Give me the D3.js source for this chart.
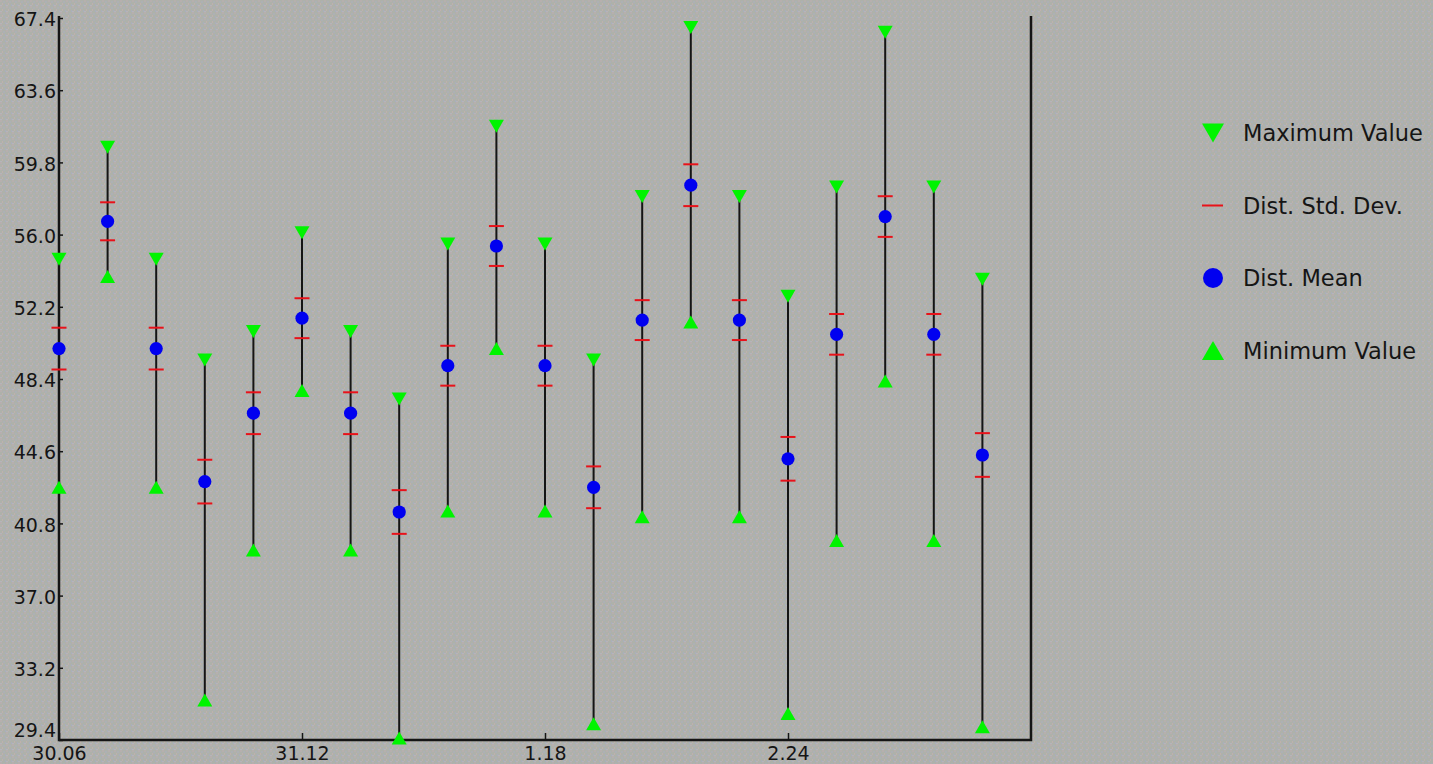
<!DOCTYPE html>
<html>
<head>
<meta charset="utf-8">
<script src="https://cdn.jsdelivr.net/npm/d3@7"></script>
<style>
  html, body { margin: 0; padding: 0; background: #afb1ac; overflow: hidden; }
  svg { display: block; }
  text { font-family: "DejaVu Sans", sans-serif; fill: #151515; }
</style>
</head>
<body>
<svg id="chart" width="1433" height="764"></svg>
<script>
// Per-sample statistics
const means     = [50.0, 56.7, 50.0, 43.0, 46.6, 51.6, 46.6, 41.4, 49.1, 55.4,
                   49.1, 42.7, 51.5, 58.6, 51.5, 44.2, 50.75, 56.95, 50.75, 44.4];
const stdDevs   = [1.1, 1.0, 1.1, 1.15, 1.1, 1.05, 1.1, 1.15, 1.05, 1.05,
                   1.05, 1.1, 1.05, 1.1, 1.05, 1.15, 1.07, 1.07, 1.07, 1.15];
const maxValues = [54.7, 60.6, 54.7, 49.4, 50.9, 56.1, 50.9, 47.35, 55.5, 61.7,
                   55.5, 49.4, 58.0, 66.9, 58.0, 52.75, 58.5, 66.65, 58.5, 53.65];
const minValues = [42.7, 53.8, 42.7, 31.5, 39.4, 47.8, 39.4, 29.5, 41.45, 50.0,
                   41.45, 30.25, 41.15, 51.4, 41.15, 30.8, 39.9, 48.3, 39.9, 30.1];

// Axis ticks
const xTickPositions = [0, 5, 10, 15];
const xTickLabels    = ["30.06", "31.12", "1.18", "2.24"];
const yTickValues    = [29.4, 33.2, 37.0, 40.8, 44.6, 48.4, 52.2, 56.0, 59.8, 63.6, 67.4];

// Legend entries
const legendLabels = ["Maximum Value", "Dist. Std. Dev.", "Dist. Mean", "Minimum Value"];
const legendKinds  = ["max", "std", "mean", "min"];

const GREEN = "#00f400", RED = "#e8121a", BLUE = "#0000f0", INK = "#151515";

const svg = d3.select("#chart");

// Grainy backdrop
const defs = svg.append("defs");
const pat = defs.append("pattern")
  .attr("id", "grain").attr("width", 6).attr("height", 6)
  .attr("patternUnits", "userSpaceOnUse");
pat.append("rect").attr("width", 6).attr("height", 6).attr("fill", "#aeb1aa");
[[0.5, 0.5, "#cfa9b9"], [3.5, 1.5, "#a9aed6"], [2, 3.5, "#d0afb3"], [5, 4.5, "#a4acd0"], [0.5, 5, "#bdb8cc"]]
  .forEach(([cx, cy, c]) => pat.append("rect").attr("x", cx).attr("y", cy)
    .attr("width", 1).attr("height", 1).attr("fill", c));
svg.append("rect").attr("width", 1433).attr("height", 764).attr("fill", "url(#grain)");

const x = d3.scaleLinear().domain([0, 20]).range([59, 1031]);
const y = d3.scaleLinear().domain([29.4, 67.4]).range([740, 18]);

// Axes
const yAxis = d3.axisLeft(y).tickValues(yTickValues)
  .tickFormat(d3.format(".1f")).tickSizeInner(-4).tickSizeOuter(0).tickPadding(3);
const gy = svg.append("g").attr("transform", `translate(${x(0)},0)`).call(yAxis);
gy.select(".domain").remove();
gy.selectAll(".tick line").attr("stroke", INK).attr("stroke-width", 1.5);
gy.selectAll(".tick text").attr("font-size", 19).attr("fill", INK).attr("font-family", "DejaVu Sans")
  .attr("dy", d => d === yTickValues[0] ? "-0.2em" : "0.4em");

const xAxis = d3.axisBottom(x).tickValues(xTickPositions)
  .tickFormat((d, i) => xTickLabels[i]).tickSizeInner(-7).tickSizeOuter(0).tickPadding(6);
const gx = svg.append("g").attr("transform", `translate(0,${y(29.4)})`).call(xAxis);
gx.select(".domain").remove();
gx.selectAll(".tick line").attr("stroke", INK).attr("stroke-width", 1.5);
gx.selectAll(".tick text").attr("font-size", 19).attr("fill", INK).attr("font-family", "DejaVu Sans")
  .attr("dy", "0.72em");

// Frame: left, bottom and right edges
svg.append("path")
  .attr("d", `M${x(0)},${y(67.4) - 2}V${y(29.4)}H${x(20)}V${y(67.4) - 2}`)
  .attr("fill", "none").attr("stroke", INK).attr("stroke-width", 2.5);

const idx = d3.range(means.length);

// Range whiskers
svg.append("g").selectAll("line").data(idx).join("line")
  .attr("x1", i => x(i)).attr("x2", i => x(i))
  .attr("y1", i => y(maxValues[i])).attr("y2", i => y(minValues[i]))
  .attr("stroke", INK).attr("stroke-width", 2);

// Marker shapes
const downTri = (cx, cy, w, h) => `M${cx - w / 2},${cy - h / 2}L${cx + w / 2},${cy - h / 2}L${cx},${cy + h / 2}Z`;
const upTri   = (cx, cy, w, h) => `M${cx - w / 2},${cy + h / 2}L${cx + w / 2},${cy + h / 2}L${cx},${cy - h / 2}Z`;

// Standard deviation bars
svg.append("g").selectAll("line").data(idx.flatMap(i => [[i, 1], [i, -1]])).join("line")
  .attr("x1", ([i]) => x(i) - 7.5).attr("x2", ([i]) => x(i) + 7.5)
  .attr("y1", ([i, s]) => y(means[i] + s * stdDevs[i]))
  .attr("y2", ([i, s]) => y(means[i] + s * stdDevs[i]))
  .attr("stroke", RED).attr("stroke-width", 2);

// Maximum markers
svg.append("g").selectAll("path").data(idx).join("path")
  .attr("d", i => downTri(x(i), y(maxValues[i]), 15, 13)).attr("fill", GREEN);

// Minimum markers
svg.append("g").selectAll("path").data(idx).join("path")
  .attr("d", i => upTri(x(i), y(minValues[i]), 15, 13)).attr("fill", GREEN);

// Mean markers
svg.append("g").selectAll("circle").data(idx).join("circle")
  .attr("cx", i => x(i)).attr("cy", i => y(means[i])).attr("r", 6.6).attr("fill", BLUE);

// Legend
const legend = svg.append("g").attr("transform", "translate(1213,133)");
const rows = legend.selectAll("g").data(legendKinds).join("g")
  .attr("transform", (d, i) => `translate(0,${i * 72.5})`);
rows.each(function (kind) {
  const g = d3.select(this);
  if (kind === "max") g.append("path").attr("d", downTri(0, 0, 22, 19)).attr("fill", GREEN);
  if (kind === "min") g.append("path").attr("d", upTri(0, 0, 22, 19)).attr("fill", GREEN);
  if (kind === "mean") g.append("circle").attr("r", 10).attr("fill", BLUE);
  if (kind === "std") g.append("line").attr("x1", -11).attr("x2", 10).attr("stroke", RED).attr("stroke-width", 2);
});
rows.append("text").attr("x", 30).attr("dy", "0.36em")
  .attr("font-size", 22.5).text((d, i) => legendLabels[i]);
</script>
</body>
</html>
